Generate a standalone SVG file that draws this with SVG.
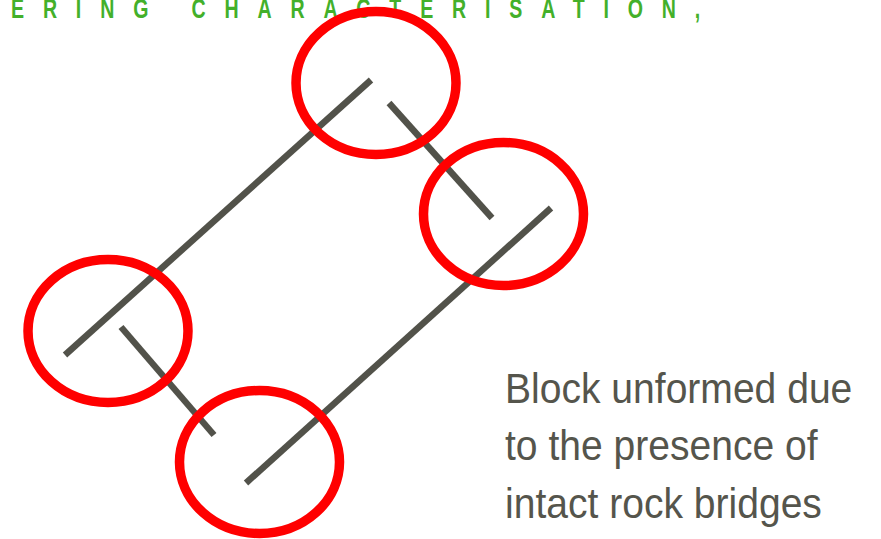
<svg xmlns="http://www.w3.org/2000/svg" width="881" height="539" viewBox="0 0 881 539">
<style>
.joint{stroke:#52524a;stroke-width:6.5;stroke-linecap:butt;fill:none}
.bridge{stroke:#ff0000;stroke-width:9.5;fill:none}
.title{font-family:"Liberation Sans",Arial,sans-serif;font-weight:bold;font-size:28px;fill:#43b02a;letter-spacing:26.9px}
.caption{font-family:"Liberation Sans",Arial,sans-serif;font-size:42px;fill:#55554c}
</style>
<rect width="881" height="539" fill="#ffffff"/>
<g id="title">
<text class="title" transform="translate(11,18) scale(0.7,1)" x="0" y="0">ERING CHARACTERISATION,</text>
</g>
<g id="joints">
<line class="joint" x1="65" y1="355" x2="371" y2="80"/>
<line class="joint" x1="389" y1="103" x2="492" y2="218"/>
<line class="joint" x1="551" y1="208" x2="246" y2="483"/>
<line class="joint" x1="121" y1="327" x2="214" y2="435"/>
</g>
<g id="rock-bridges">
<ellipse id="bridge-top" class="bridge" cx="376" cy="83" rx="80" ry="71.5"/>
<ellipse id="bridge-right" class="bridge" cx="503.5" cy="214" rx="80" ry="71.5"/>
<ellipse id="bridge-left" class="bridge" cx="108" cy="331" rx="80" ry="71.5"/>
<ellipse id="bridge-bottom" class="bridge" cx="259.5" cy="462" rx="80" ry="71.5"/>
</g>
<g id="caption">
<text class="caption" transform="translate(505,0) scale(0.93,1)">
<tspan x="0" y="403">Block unformed due</tspan>
<tspan x="0" y="460.5">to the presence of</tspan>
<tspan x="0" y="518">intact rock bridges</tspan>
</text>
</g>
</svg>
